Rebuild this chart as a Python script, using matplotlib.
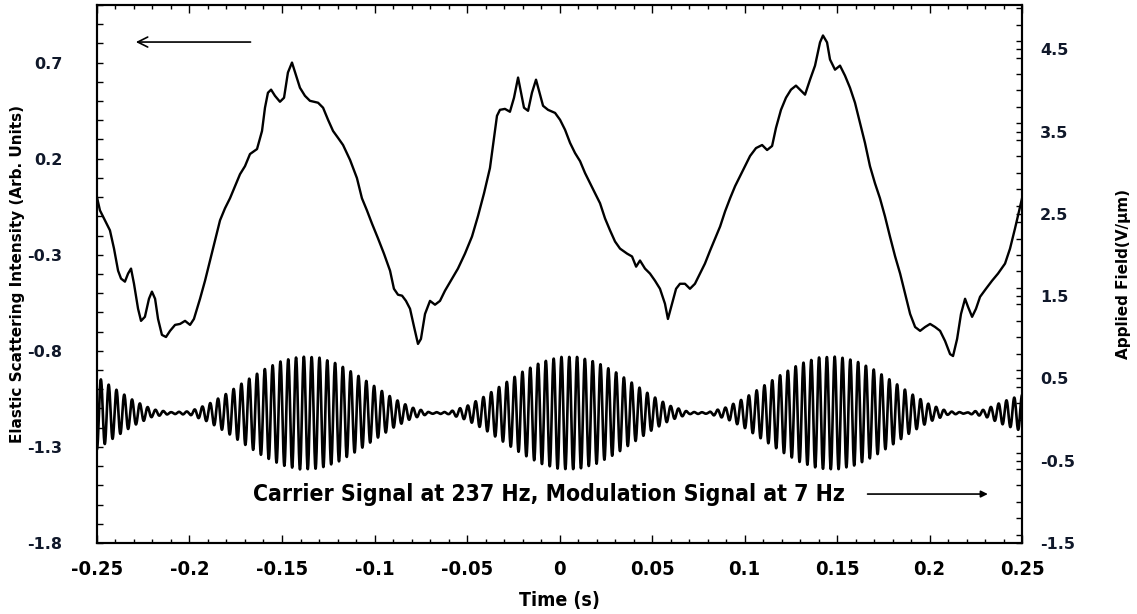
import numpy as np
import matplotlib
matplotlib.use("Agg")
import matplotlib.pyplot as plt
from matplotlib.ticker import MultipleLocator, FixedLocator

# elastic scattering intensity (left axis)
scat_t = [-0.25, -0.2484, -0.2457, -0.243, -0.2408, -0.2386, -0.237, -0.2349, -0.2332, -0.2316,
          -0.23, -0.2278, -0.2262, -0.2241, -0.2219, -0.2203, -0.2186, -0.217, -0.2149, -0.2127,
          -0.2105, -0.2078, -0.2051, -0.2024, -0.1997, -0.1976,
          -0.1943, -0.1916, -0.1889, -0.1862, -0.1835, -0.1808, -0.1781, -0.1754, -0.1727, -0.17,
          -0.1673, -0.1635, -0.1608, -0.1592, -0.1576, -0.1559, -0.1538, -0.1511, -0.1489, -0.1468,
          -0.1446, -0.1424, -0.1403, -0.1376, -0.1349, -0.1305, -0.1278, -0.1251, -0.1224, -0.1197,
          -0.117, -0.1132, -0.1095, -0.1068,
          -0.1041, -0.1014, -0.0981, -0.0949, -0.0916, -0.0895, -0.0873, -0.0851, -0.083, -0.0808,
          -0.0786, -0.0765, -0.0749, -0.0727, -0.07, -0.0673, -0.0646, -0.0619, -0.0581, -0.0549,
          -0.0511, -0.0473, -0.0441, -0.0408, -0.0376, -0.0354, -0.0338, -0.0322, -0.0295, -0.0268,
          -0.0246, -0.0224, -0.0208, -0.0192, -0.017, -0.0149, -0.0127, -0.0105, -0.0089, -0.0062,
          -0.0024, 0.0003, 0.003, 0.0057, 0.0084, 0.0111, 0.0138, 0.0165, 0.0192, 0.0219,
          0.0246, 0.0273, 0.03, 0.0327, 0.0365, 0.0392, 0.0414, 0.0435, 0.0462, 0.0489,
          0.0516, 0.0543, 0.057, 0.0586, 0.0608, 0.063, 0.0651, 0.0678, 0.0705, 0.0732,
          0.0759, 0.0786, 0.0814, 0.0841, 0.0868, 0.0895, 0.0922, 0.0949, 0.0976, 0.1003,
          0.103, 0.1062, 0.1095, 0.1122, 0.1149, 0.117, 0.1197, 0.1224, 0.1251, 0.1278,
          0.13, 0.1327, 0.1354, 0.1381, 0.1408, 0.1424, 0.1446, 0.1462, 0.1489, 0.1516,
          0.1543, 0.157, 0.1597, 0.1624, 0.1651, 0.1678, 0.1705, 0.1732, 0.1759, 0.1786,
          0.1814, 0.1841, 0.1868, 0.1895, 0.1922, 0.1949, 0.1976, 0.2003, 0.203, 0.2057,
          0.2084, 0.2111, 0.2127, 0.2149, 0.217, 0.2192, 0.2208, 0.223, 0.2251, 0.2273,
          0.2305, 0.2338, 0.237, 0.2408, 0.2435, 0.2462, 0.25]
scat_y = [-0.001, -0.069, -0.121, -0.173, -0.268, -0.383, -0.424, -0.44, -0.398, -0.372,
          -0.451, -0.581, -0.644, -0.623, -0.529, -0.492, -0.529, -0.634, -0.717, -0.728,
          -0.696, -0.665, -0.66, -0.644, -0.665, -0.634,
          -0.529, -0.435, -0.33, -0.226, -0.121, -0.058, -0.006, 0.057, 0.119, 0.161,
          0.224, 0.25, 0.344, 0.465, 0.543, 0.559, 0.527, 0.496, 0.517, 0.648,
          0.7, 0.632, 0.569, 0.527, 0.501, 0.491, 0.465, 0.402, 0.344, 0.308,
          0.271, 0.193, 0.099, -0.006,
          -0.069, -0.137, -0.215, -0.294, -0.383, -0.477, -0.508, -0.513, -0.54, -0.581,
          -0.676, -0.764, -0.738, -0.608, -0.54, -0.56, -0.54, -0.487, -0.425, -0.372,
          -0.294, -0.205, -0.1, 0.02, 0.151, 0.308, 0.423, 0.454, 0.459, 0.444,
          0.517, 0.622, 0.543, 0.465, 0.449, 0.543, 0.611, 0.533, 0.475, 0.454,
          0.438, 0.402, 0.35, 0.282, 0.229, 0.187, 0.125, 0.072, 0.02, -0.032,
          -0.111, -0.173, -0.231, -0.268, -0.294, -0.309, -0.362, -0.33, -0.372, -0.398,
          -0.435, -0.477, -0.555, -0.634, -0.555, -0.477, -0.451, -0.451, -0.477, -0.451,
          -0.398, -0.346, -0.278, -0.215, -0.153, -0.074, -0.006, 0.057, 0.109, 0.161,
          0.214, 0.255, 0.271, 0.245, 0.266, 0.36, 0.454, 0.517, 0.559, 0.58,
          0.559, 0.533, 0.611, 0.684, 0.805, 0.841, 0.805, 0.716, 0.663, 0.684,
          0.632, 0.569, 0.491, 0.386, 0.282, 0.161, 0.072, -0.006, -0.1, -0.205,
          -0.309, -0.398, -0.503, -0.608, -0.676, -0.696, -0.676, -0.66, -0.676, -0.696,
          -0.749, -0.817, -0.827, -0.738, -0.608, -0.529, -0.571, -0.623, -0.581, -0.519,
          -0.477, -0.435, -0.398, -0.346, -0.268, -0.163, -0.006]

# applied field (right axis): envelope read every 10 ms, carrier as stated in the chart
env_t = [round(-0.25 + 0.01 * i, 2) for i in range(51)]
env_amp = [0.44, 0.29, 0.15, 0.045, 0.01, 0.02, 0.105, 0.235, 0.385, 0.527,
           0.635, 0.687, 0.675, 0.598, 0.47, 0.326, 0.18, 0.068, 0.008, 0.013,
           0.086, 0.208, 0.356, 0.502, 0.617, 0.682, 0.682, 0.617, 0.502, 0.356,
           0.208, 0.086, 0.013, 0.008, 0.068, 0.18, 0.326, 0.47, 0.598, 0.675,
           0.687, 0.635, 0.527, 0.385, 0.235, 0.105, 0.02, 0.005, 0.042, 0.142,
           0.22]
field_offset = 0.08
carrier_hz = 237

fig = plt.figure(figsize=(11.37, 6.14), dpi=100)
ax = fig.add_axes([0.0853, 0.1156, 0.8136, 0.8764])
ax2 = ax.twinx()

ax.plot(scat_t, scat_y, color="black", lw=1.7, zorder=3)

t_dense = np.linspace(-0.25, 0.25, 6000)
field = field_offset + np.interp(t_dense, env_t, env_amp) * np.sin(2 * np.pi * carrier_hz * t_dense)
ax2.plot(t_dense, field, color="black", lw=1.9)

ax.set_xlim(-0.25, 0.25)
ax.set_ylim(-1.8, 1.0)
ax2.set_ylim(-1.5, 5.04)

xticks = [-0.25, -0.2, -0.15, -0.1, -0.05, 0, 0.05, 0.1, 0.15, 0.2, 0.25]
xlabels = ["-0.25", "-0.2", "-0.15", "-0.1", "-0.05", "0", "0.05", "0.1", "0.15", "0.2", "0.25"]
yticks = [-1.8, -1.3, -0.8, -0.3, 0.2, 0.7]
y2ticks = [-1.5, -0.5, 0.5, 1.5, 2.5, 3.5, 4.5]

ax.xaxis.set_major_locator(FixedLocator(xticks))
ax.set_xticklabels(xlabels)
ax.xaxis.set_minor_locator(MultipleLocator(0.01))
ax.yaxis.set_major_locator(FixedLocator(yticks))
ax.set_yticklabels([f"{v:.1f}" for v in yticks])
ax.yaxis.set_minor_locator(MultipleLocator(0.1))
ax2.yaxis.set_major_locator(FixedLocator(y2ticks))
ax2.set_yticklabels([f"{v:.1f}" for v in y2ticks])
ax2.yaxis.set_minor_locator(MultipleLocator(0.2))

ax.tick_params(axis="x", which="major", direction="in", length=6, width=1, top=True, pad=12)
ax.tick_params(axis="x", which="minor", direction="in", length=3, width=1, top=True)
ax.tick_params(axis="y", which="major", direction="in", length=4, width=1, pad=25, labelsize=11.5)
ax.tick_params(axis="y", which="minor", direction="in", length=4, width=1)
ax2.tick_params(axis="y", which="major", direction="in", length=4, width=1, pad=13, labelsize=11.5)
ax2.tick_params(axis="y", which="minor", direction="in", length=4, width=1)

for lab in ax.get_xticklabels():
    lab.set_fontweight("bold")
    lab.set_fontstretch("condensed")
    lab.set_fontsize(14.5)
for lab in ax.get_yticklabels() + ax2.get_yticklabels():
    lab.set_fontweight("bold")
    lab.set_color("#10182a")

for a in (ax, ax2):
    for s in a.spines.values():
        s.set_linewidth(1.5)

ax.set_ylabel("Elastic Scattering Intensity (Arb. Units)", fontsize=11, fontweight="bold")
ax.yaxis.set_label_coords(-0.078, 0.5)
ax2.set_ylabel("Applied Field(V/\u03bcm)", fontsize=11, fontweight="bold")
ax2.yaxis.set_label_coords(1.1015, 0.5)
ax.set_xlabel("Time (s)", fontsize=14, fontweight="bold", fontstretch="condensed")
ax.xaxis.set_label_coords(0.5, -0.09)

ax.annotate("", xy=(0.039, 0.931), xytext=(0.169, 0.931), xycoords="axes fraction",
            arrowprops=dict(arrowstyle="->", lw=1.2, color="black", mutation_scale=18))
ax.text(0.1686, 0.091, "Carrier Signal at 237 Hz, Modulation Signal at 7 Hz", transform=ax.transAxes,
        fontsize=16.5, fontweight="bold", fontstretch="condensed", va="center", ha="left")
ax.annotate("", xy=(0.966, 0.091), xytext=(0.83, 0.091), xycoords="axes fraction",
            arrowprops=dict(arrowstyle="-|>", lw=1.2, color="black", mutation_scale=10))

fig.savefig("out.png", dpi=100)
